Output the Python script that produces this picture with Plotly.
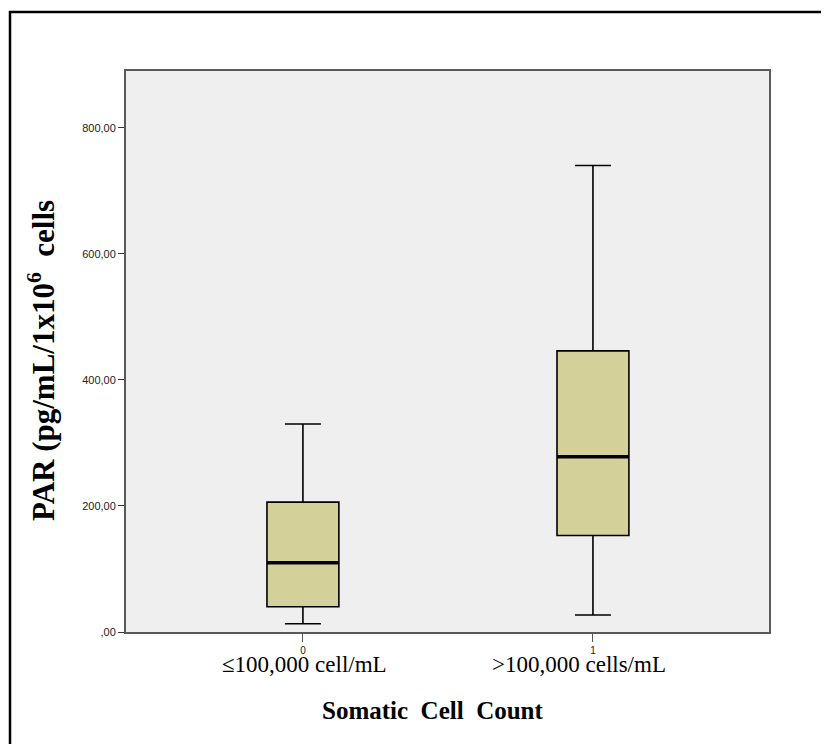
import plotly.graph_objects as go

# ---- data ----
categories = [0, 1]
tick_labels = ["0", "1"]
category_labels = ["≤100,000 cell/mL", ">100,000 cells/mL"]
lower_whisker = [13, 27]
q1_values = [40, 153]
median_values = [110, 278]
q3_values = [206, 446]
upper_whisker = [330, 740]
y_tick_values = [0, 200, 400, 600, 800]
y_tick_labels = [",00", "200,00", "400,00", "600,00", "800,00"]

BOX_WIDTH = 0.248
FILL = "rgb(212,208,154)"
SERIF = "Liberation Serif, Times New Roman, serif"
SANS = "Liberation Sans, Arial, sans-serif"

fig = go.Figure()
fig.add_trace(go.Box(
    x=categories,
    q1=q1_values,
    median=median_values,
    q3=q3_values,
    lowerfence=lower_whisker,
    upperfence=upper_whisker,
    width=BOX_WIDTH,
    whiskerwidth=0.5,
    fillcolor=FILL,
    line=dict(color="black", width=1.6),
    boxpoints=False,
    showlegend=False,
    hoverinfo="skip",
))

# thick median lines
for c, m in zip(categories, median_values):
    fig.add_trace(go.Scatter(
        x=[c - BOX_WIDTH / 2, c + BOX_WIDTH / 2],
        y=[m, m],
        mode="lines",
        line=dict(color="black", width=3.5),
        showlegend=False,
        hoverinfo="skip",
    ))

# page offset of the figure inside the browser window
OFF = 8
W, H = 829, 744
L, R, T, B = 126 - OFF, 829 - (769 - OFF), 71 - OFF, 744 - (632 - OFF)
pw, ph = W - L - R, H - T - B

def px_x(px):
    return (px - OFF - L) / pw

def px_y(py):
    return (H - B - (py - OFF)) / ph

fig.update_layout(
    width=W, height=H,
    margin=dict(l=L, r=R, t=T, b=B),
    paper_bgcolor="white",
    plot_bgcolor="#efefef",
    showlegend=False,
)
fig.update_xaxes(
    range=[-0.61, 1.607],
    tickvals=categories,
    ticktext=tick_labels,
    ticks="outside", ticklen=8, tickcolor="#555", tickwidth=1,
    tickfont=dict(family=SANS, size=10, color="#222"),
    showgrid=False, zeroline=False,
    showline=True, linecolor="#5a5a5a", linewidth=2, mirror=True,
)
fig.update_yaxes(
    range=[0, 890],
    tickvals=y_tick_values,
    ticktext=y_tick_labels,
    ticks="outside", ticklen=6, tickcolor="#333", tickwidth=1,
    tickfont=dict(family=SANS, size=11, color="#222"),
    showgrid=False, zeroline=False,
    showline=True, linecolor="#5a5a5a", linewidth=2, mirror=True,
)

annotations = []
shifts = [2, -14]
for c, lab, s in zip(categories, category_labels, shifts):
    annotations.append(dict(
        x=c, xref="x", y=px_y(664), yref="paper",
        text=lab, showarrow=False, xshift=s,
        xanchor="center", yanchor="middle",
        font=dict(family=SERIF, size=23, color="black"),
    ))
annotations.append(dict(
    x=px_x(433), xref="paper", y=px_y(710), yref="paper",
    text="<b>Somatic  Cell  Count</b>", showarrow=False,
    xanchor="center", yanchor="middle",
    font=dict(family=SERIF, size=25, color="black"),
))
annotations.append(dict(
    x=px_x(42), xref="paper", y=px_y(361), yref="paper",
    text="<b>PAR (pg/mL/1x10<sup>6</sup>  cells</b>", showarrow=False,
    textangle=-90, xanchor="center", yanchor="middle",
    font=dict(family=SERIF, size=31, color="black"),
))
fig.update_layout(annotations=annotations)

# outer black frame (extends past right and bottom edges like the reference)
fig.add_shape(
    type="rect", xref="paper", yref="paper",
    x0=px_x(10), x1=px_x(850), y0=px_y(770), y1=px_y(12),
    line=dict(color="black", width=2.5), fillcolor="rgba(0,0,0,0)",
    layer="below",
)

fig.write_html("out.html")
